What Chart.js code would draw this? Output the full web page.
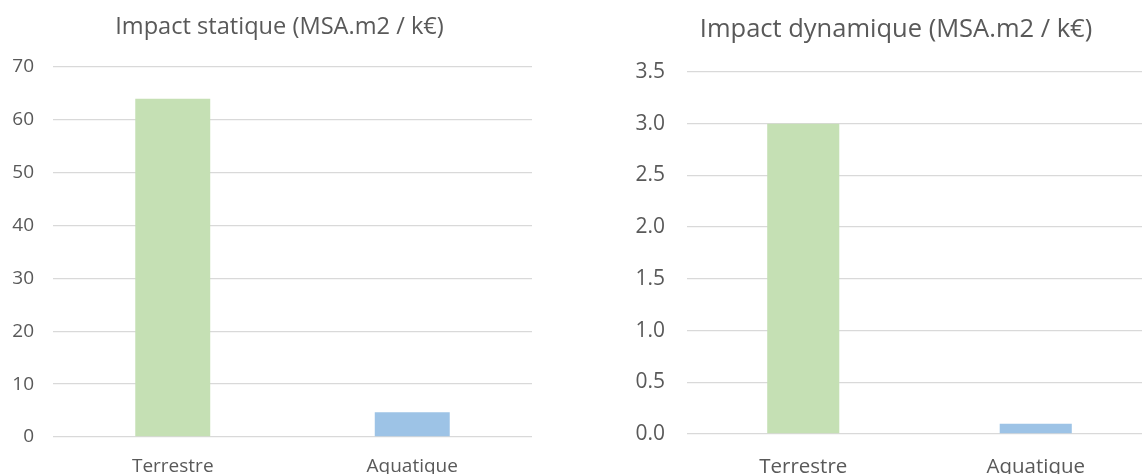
<!DOCTYPE html>
<html>
<head>
<meta charset="utf-8">
<script src="https://cdn.jsdelivr.net/npm/chart.js@4/dist/chart.umd.min.js"></script>
<style>
  html, body { margin: 0; padding: 0; background: #ffffff; }
  body { width: 1142px; height: 474px; overflow: hidden; position: relative; }
  .panel { position: absolute; top: 0; }
</style>
</head>
<body>
<div class="panel" style="left:0px;"><canvas id="staticChart" width="560" height="474"></canvas></div>
<div class="panel" style="left:580px;"><canvas id="dynamicChart" width="600" height="474"></canvas></div>
<script>
// Data
const categories = ['Terrestre', 'Aquatique'];
const staticValues = [64, 4.7];
const dynamicValues = [3.0, 0.1];
const barColors = ['#C5E0B4', '#9DC3E6'];
const staticTicks = [0, 10, 20, 30, 40, 50, 60, 70];
const dynamicTicks = [0, 0.5, 1.0, 1.5, 2.0, 2.5, 3.0, 3.5];
const staticTitle = 'Impact statique (MSA.m2 / k€)';
const dynamicTitle = 'Impact dynamique (MSA.m2 / k€)';

const FONT = "'Open Sans', 'Noto Sans', sans-serif";
const TEXT = '#595959';
const GRID = '#D9D9D9';

// Moves the title block sideways so it sits over the whole panel, not just the plot
const titleShift = {
  id: 'titleShift',
  afterLayout(chart, args, opts) {
    const t = chart.titleBlock;
    if (t && opts.dx) { t.left += opts.dx; t.right += opts.dx; }
  }
};

function buildChart(canvasId, opts) {
  return new Chart(document.getElementById(canvasId), {
    type: 'bar',
    data: {
      labels: categories,
      datasets: [{
        data: opts.values,
        backgroundColor: barColors,
        borderWidth: 0,
        categoryPercentage: 1.0,
        barPercentage: opts.barPct
      }]
    },
    plugins: [titleShift],
    options: {
      responsive: false,
      animation: false,
      devicePixelRatio: 1,
      layout: { padding: { left: 0, right: opts.padRight, top: 0, bottom: 0 } },
      plugins: {
        legend: { display: false },
        tooltip: { enabled: false },
        titleShift: { dx: opts.titleDx },
        title: {
          display: true,
          text: opts.title,
          color: TEXT,
          font: { family: FONT, size: opts.titleSize, weight: 'normal', lineHeight: 1.2 },
          padding: { top: opts.titleTop, bottom: opts.titleBottom }
        }
      },
      scales: {
        x: {
          grid: { display: false, drawTicks: false },
          border: { display: false },
          ticks: {
            color: TEXT,
            font: { family: FONT, size: opts.catSize },
            padding: opts.catPad,
            maxRotation: 0
          },
          afterFit: (s) => { s.height = opts.xHeight; }
        },
        y: {
          min: opts.ticks[0],
          max: opts.ticks[opts.ticks.length - 1],
          grid: { color: GRID, lineWidth: 1.3, drawTicks: false },
          border: { display: false },
          afterBuildTicks: (s) => { s.ticks = opts.ticks.map(v => ({ value: v })); },
          ticks: {
            color: TEXT,
            font: { family: FONT, size: opts.tickSize },
            padding: opts.tickPad,
            callback: opts.fmt
          },
          afterFit: (s) => { s.width = opts.yWidth; }
        }
      }
    }
  });
}

buildChart('staticChart', {
  values: staticValues,
  ticks: staticTicks,
  title: staticTitle,
  fmt: (v) => String(v),
  barPct: 0.313,
  padRight: 28, yWidth: 53, titleDx: 13.5,
  titleSize: 23.6, titleTop: 12.8, titleBottom: 25.9,
  tickSize: 19, tickPad: 19,
  catSize: 19, catPad: 18, xHeight: 37
});

buildChart('dynamicChart', {
  values: dynamicValues,
  ticks: dynamicTicks,
  title: dynamicTitle,
  fmt: (v) => Number(v).toFixed(1),
  barPct: 0.31,
  padRight: 28, yWidth: 107, titleDx: 30,
  titleSize: 25.5, titleTop: 14.7, titleBottom: 26.7,
  tickSize: 21, tickPad: 22,
  catSize: 20.5, catPad: 21, xHeight: 40
});
</script>
</body>
</html>
